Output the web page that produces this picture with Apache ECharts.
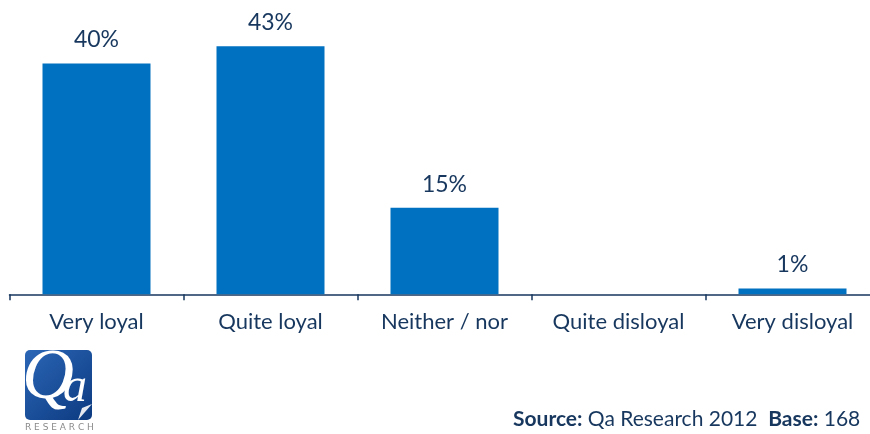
<!DOCTYPE html>
<html>
<head>
<meta charset="utf-8">
<script src="https://cdn.jsdelivr.net/npm/echarts@6/dist/echarts.min.js"></script>
<style>
  html, body { margin: 0; padding: 0; background: #ffffff; overflow: hidden; }
  #chart { width: 890px; height: 434px; }
</style>
</head>
<body>
<div id="chart"></div>
<script>
// Loyalty survey responses (share of respondents, %)
const categories = ['Very loyal', 'Quite loyal', 'Neither / nor', 'Quite disloyal', 'Very disloyal'];
const shares = [40, 43, 15, 0, 1];

const NAVY = '#17375e';
const BAR_BLUE = '#0070c0';
const FONT = 'Lato, "Open Sans", sans-serif';

// the plot runs slightly past the right edge of the 870px window
const chart = echarts.init(document.getElementById('chart'), null, { renderer: 'canvas' });

chart.setOption({
  animation: false,
  backgroundColor: '#ffffff',
  grid: { left: 9.5, top: 5.8, width: 870, height: 288.5, containLabel: false },
  xAxis: {
    type: 'category',
    data: categories,
    axisLine: { lineStyle: { color: NAVY, width: 1.5 } },
    axisTick: { show: true, alignWithLabel: false, length: 6, lineStyle: { color: NAVY, width: 1.5 } },
    axisLabel: { color: NAVY, fontFamily: FONT, fontSize: 22, margin: 17, interval: 0 }
  },
  yAxis: {
    type: 'value',
    min: 0,
    max: 50,
    show: false,
    splitLine: { show: false }
  },
  series: [{
    type: 'bar',
    data: shares,
    barWidth: 108,
    itemStyle: { color: BAR_BLUE },
    label: {
      show: true,
      position: 'top',
      distance: 12,
      color: NAVY,
      fontFamily: FONT,
      fontSize: 23,
      formatter: p => (p.value > 0 ? p.value + '%' : '')
    }
  }],
  graphic: [
    // company mark, bottom left
    {
      type: 'group',
      x: 25,
      y: 350,
      children: [
        {
          type: 'rect',
          shape: { x: 0, y: 0, width: 67, height: 70, r: 5 },
          style: {
            fill: new echarts.graphic.LinearGradient(0, 0, 1, 1, [
              { offset: 0, color: '#2b66b6' },
              { offset: 1, color: '#0c3a80' }
            ])
          }
        },
        {
          type: 'polygon',
          shape: { points: [[67, 54], [53, 70], [57, 58]] },
          style: { fill: '#e6e9f0' }
        },
        {
          type: 'text',
          x: -3,
          y: -7,
          style: {
            text: 'Q',
            fill: '#ffffff',
            font: 'italic 72px "Liberation Serif", "DejaVu Serif", serif'
          }
        },
        {
          type: 'text',
          x: 38,
          y: 14,
          style: {
            text: 'a',
            fill: '#ffffff',
            font: 'italic 48px "Liberation Serif", "DejaVu Serif", serif'
          }
        },
        {
          type: 'text',
          x: 0,
          y: 73,
          style: {
            text: 'R E S E A R C H',
            fill: '#8a8a8a',
            font: '9px "DejaVu Sans", sans-serif'
          }
        }
      ]
    },
    // source note, bottom right
    {
      type: 'text',
      left: 513,
      top: 409,
      style: {
        text: '{b|Source:} Qa Research 2012  {b|Base:} 168',
        fill: NAVY,
        font: '21px ' + FONT,
        rich: {
          b: { fontWeight: 'bold', fontSize: 21, fontFamily: FONT, fill: NAVY }
        }
      }
    }
  ]
});
</script>
</body>
</html>
